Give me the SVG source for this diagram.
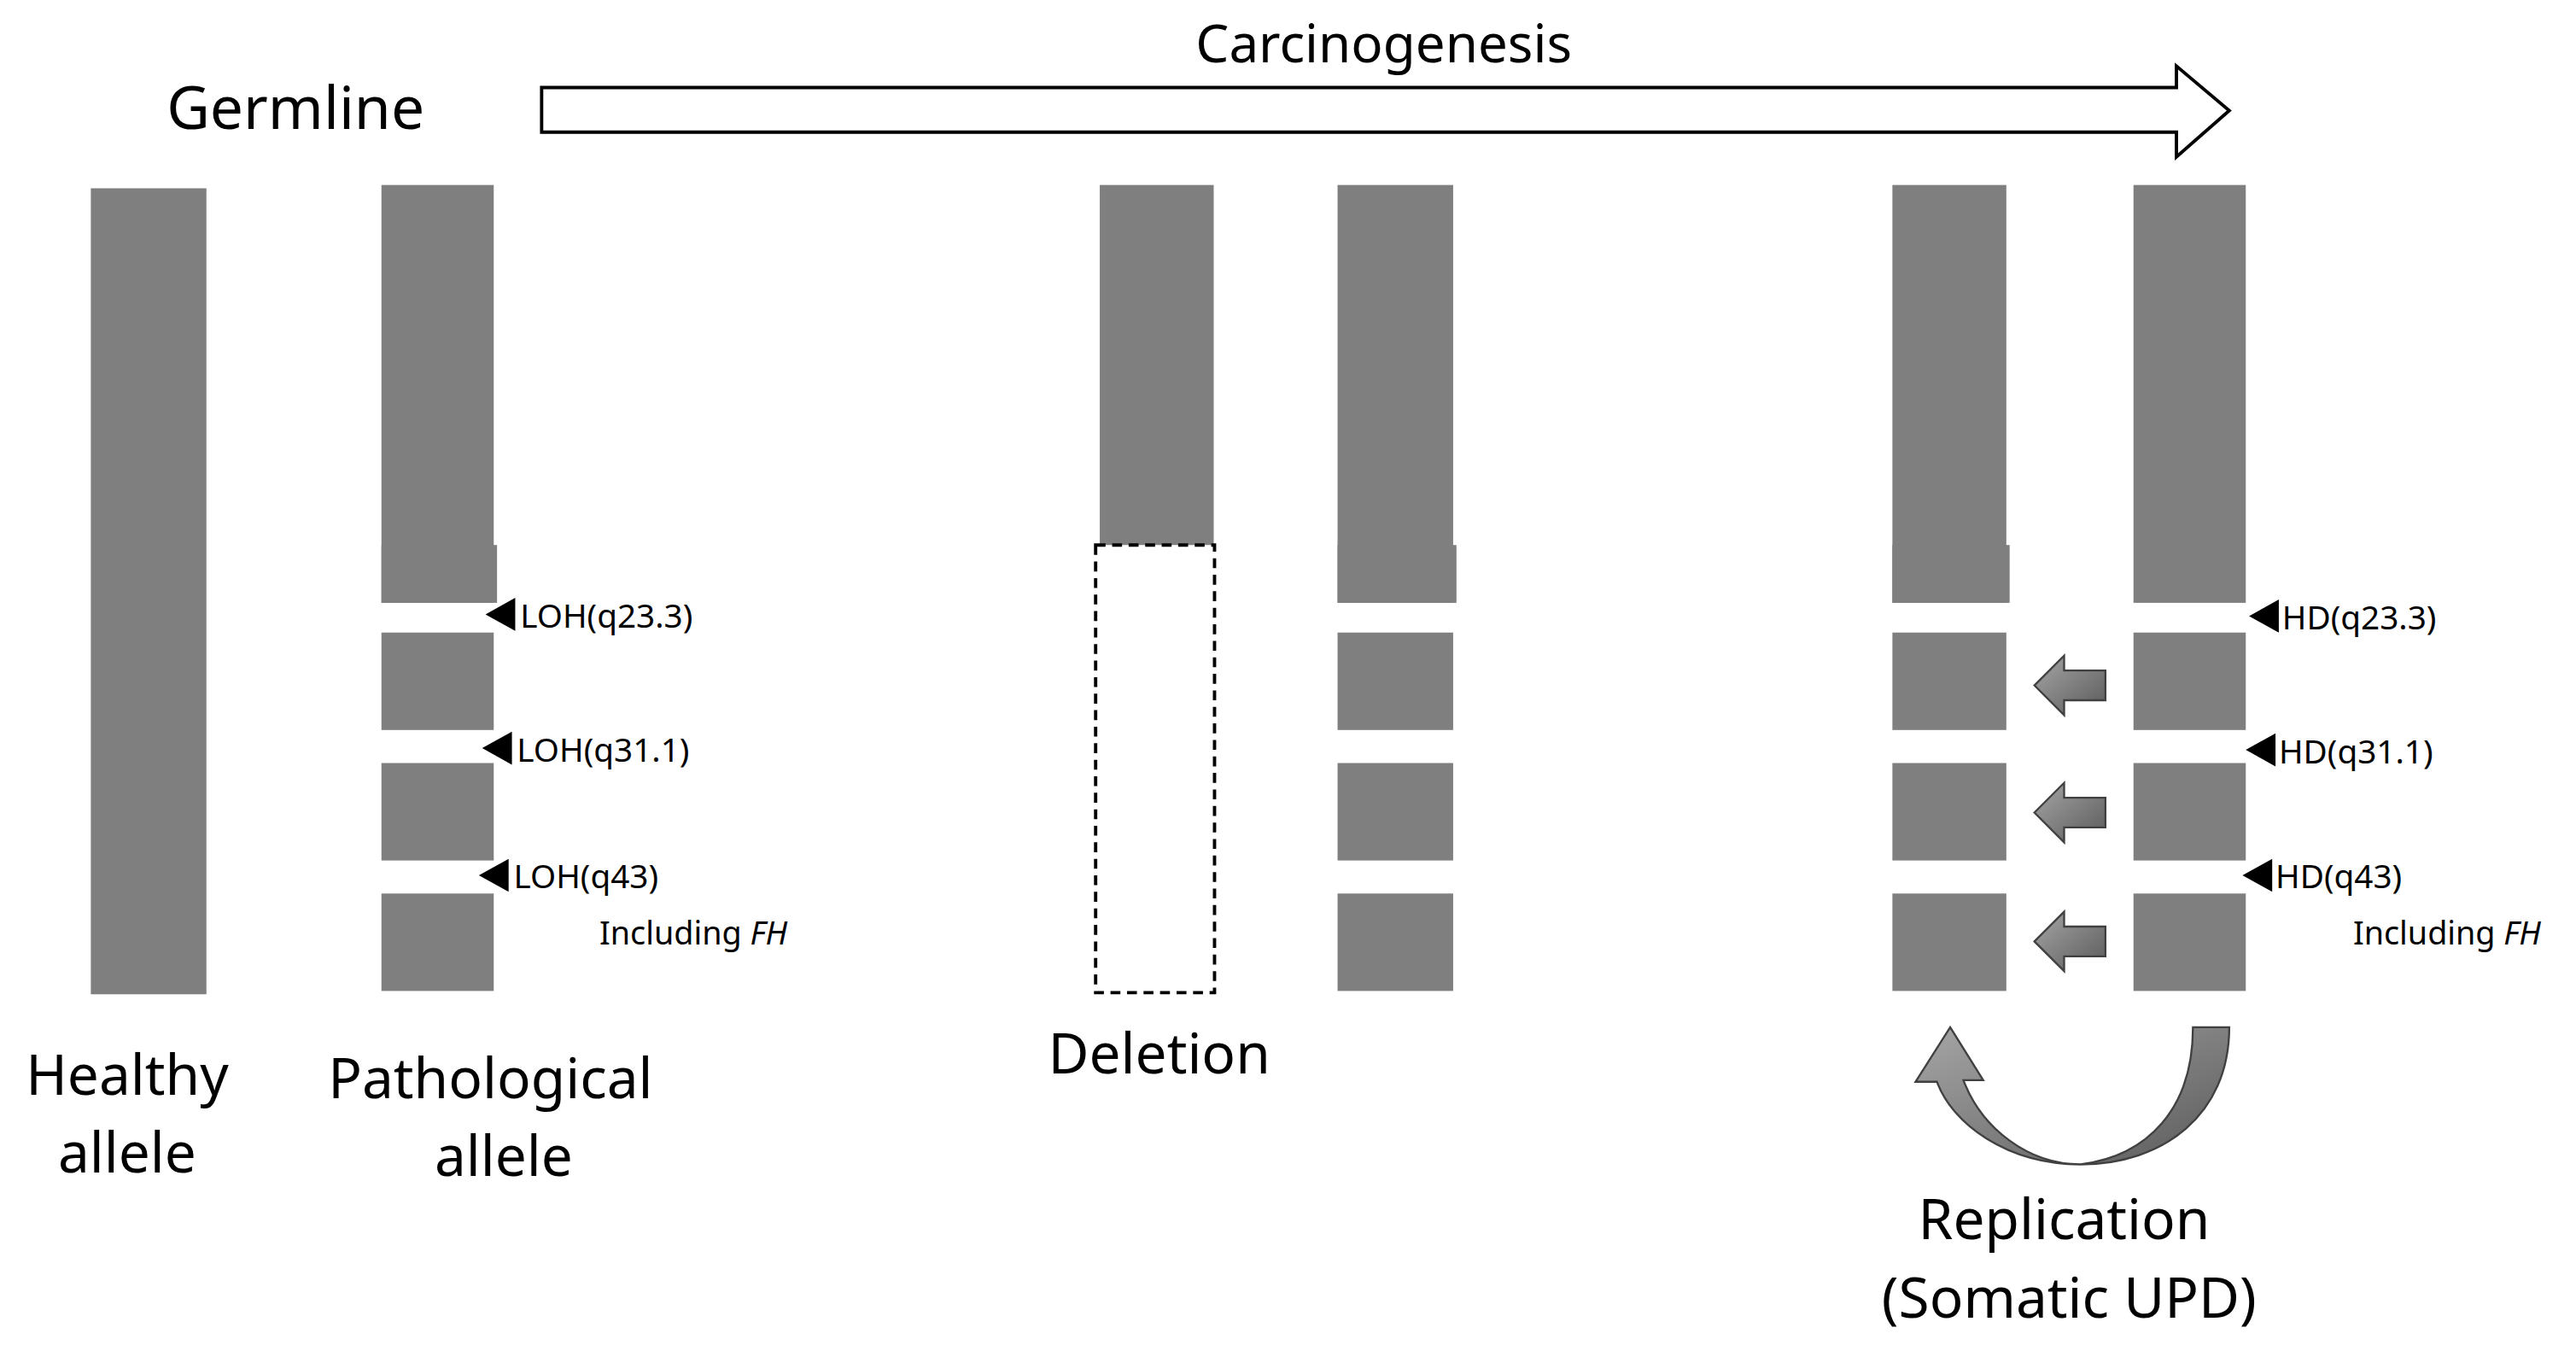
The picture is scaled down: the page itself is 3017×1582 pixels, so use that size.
<svg xmlns="http://www.w3.org/2000/svg" width="3017" height="1582" viewBox="0 0 3017 1582">
<defs>
<style>
.bar{fill:#7f7f7f}
.t{font-family:"Noto Sans","Open Sans",sans-serif;fill:#000}
.big{font-size:34px}
.sm{font-size:19.5px}
.tri{fill:#000}
.ga{stroke:#404040;stroke-width:1.2}
</style>
<linearGradient id="g" x1="0" y1="0" x2="1" y2="1"><stop offset="0" stop-color="#a6a6a6"/><stop offset="1" stop-color="#5a5a5a"/></linearGradient>
</defs>
<rect width="3017" height="1582" fill="#fff"/>
<g transform="scale(1.934)">
<g id="titles">
<text class="t" x="179" y="78" font-size="36" text-anchor="middle">Germline</text>
<text class="t" x="838" y="38" font-size="32" text-anchor="middle">Carcinogenesis</text>
</g>
<g id="connectors">
<path d="M328,53 H1318 V40 L1350,67 L1318,95 V80 H328 Z" fill="#fff" stroke="#000" stroke-width="2"/>
<g class="ga" fill="url(#g)">
<path d="M1232,415 L1250,397 V406 H1275 V424 H1250 V433 Z"/>
<path d="M1232,492 L1250,474 V483 H1275 V501 H1250 V510 Z"/>
<path d="M1232,570 L1250,552 V561 H1275 V579 H1250 V588 Z"/>
<path d="M1350,622 C1350,675 1310,705 1260,705 C1215,705 1182,680 1173,655 L1160,655 L1181,622 L1201,654 L1189,654 C1200,683 1228,705 1260,705 C1300,700 1328,672 1328,622 Z"/>
</g>
</g>
<g id="healthy">
<rect class="bar" x="55" y="114" width="70" height="488"/>
<text class="t big" x="77" y="663" text-anchor="middle">Healthy</text>
<text class="t big" x="77" y="710" text-anchor="middle">allele</text>
</g>
<g id="pathological">
<rect class="bar" x="231" y="112" width="68" height="253"/>
<rect class="bar" x="231" y="330" width="70" height="35"/>
<rect class="bar" x="231" y="383" width="68" height="59"/>
<rect class="bar" x="231" y="462" width="68" height="59"/>
<rect class="bar" x="231" y="541" width="68" height="59"/>
<path class="tri" d="M294,372 L312,362 V382 Z"/>
<path class="tri" d="M292,453 L310,443 V463 Z"/>
<path class="tri" d="M290,530 L308,520 V540 Z"/>
<text class="t" x="315" y="380" font-size="20">LOH(q23.3)</text>
<text class="t" x="313" y="461" font-size="20">LOH(q31.1)</text>
<text class="t" x="311" y="538" font-size="20">LOH(q43)</text>
<text class="t sm" x="363" y="572">Including <tspan font-style="italic">FH</tspan></text>
<text class="t big" x="297" y="665" text-anchor="middle">Pathological</text>
<text class="t big" x="305" y="712" text-anchor="middle">allele</text>
</g>
<g id="deletion">
<rect class="bar" x="666" y="112" width="69" height="218"/>
<rect x="663.5" y="330" width="72" height="271" fill="none" stroke="#000" stroke-width="2" stroke-dasharray="6,4"/>
<text class="t big" x="702" y="650" text-anchor="middle">Deletion</text>
</g>
<g id="col4">
<rect class="bar" x="810" y="112" width="70" height="253"/>
<rect class="bar" x="810" y="330" width="72" height="35"/>
<rect class="bar" x="810" y="383" width="70" height="59"/>
<rect class="bar" x="810" y="462" width="70" height="59"/>
<rect class="bar" x="810" y="541" width="70" height="59"/>
</g>
<g id="col5">
<rect class="bar" x="1146" y="112" width="69" height="253"/>
<rect class="bar" x="1146" y="330" width="71" height="35"/>
<rect class="bar" x="1146" y="383" width="69" height="59"/>
<rect class="bar" x="1146" y="462" width="69" height="59"/>
<rect class="bar" x="1146" y="541" width="69" height="59"/>
</g>
<g id="col6">
<rect class="bar" x="1292" y="112" width="68" height="253"/>
<rect class="bar" x="1292" y="383" width="68" height="59"/>
<rect class="bar" x="1292" y="462" width="68" height="59"/>
<rect class="bar" x="1292" y="541" width="68" height="59"/>
<path class="tri" d="M1362,373 L1380,363 V383 Z"/>
<path class="tri" d="M1360,454 L1378,444 V464 Z"/>
<path class="tri" d="M1358,530 L1376,520 V540 Z"/>
<text class="t" x="1382" y="381" font-size="20">HD(q23.3)</text>
<text class="t" x="1380" y="462" font-size="20">HD(q31.1)</text>
<text class="t" x="1378" y="538" font-size="20">HD(q43)</text>
<text class="t sm" x="1425" y="572">Including <tspan font-style="italic">FH</tspan></text>
<text class="t big" x="1250" y="750" text-anchor="middle">Replication</text>
<text class="t big" x="1253" y="798" text-anchor="middle">(Somatic UPD)</text>
</g>
</g>
</svg>
